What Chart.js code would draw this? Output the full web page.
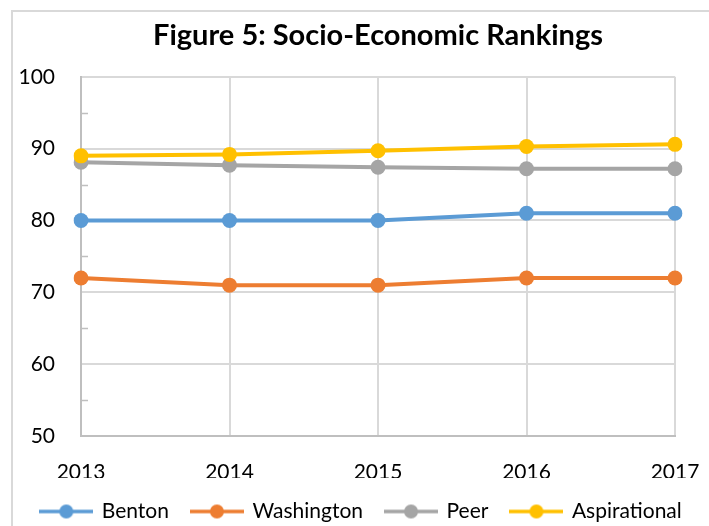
<!DOCTYPE html>
<html>
<head>
<meta charset="utf-8">
<script src="https://cdn.jsdelivr.net/npm/chart.js@4/dist/chart.umd.min.js"></script>
<style>
  html, body { margin: 0; padding: 0; background: #fff; }
  #wrap { width: 709px; height: 526px; position: relative; }
</style>
</head>
<body>
<div id="wrap"><canvas id="chart"></canvas></div>
<script>
var years = ['2013', '2014', '2015', '2016', '2017'];
var benton = [80, 80, 80, 81, 81];
var washington = [72, 71, 71, 72, 72];
var peer = [88.1, 87.7, 87.4, 87.2, 87.2];
var aspirational = [89.0, 89.2, 89.7, 90.3, 90.6];
var minorTicks = [55, 65, 75, 85, 95];

var FONT = 'Lato, "Open Sans", sans-serif';

function legendMark(color) {
  var c = document.createElement('canvas');
  c.width = 54; c.height = 16;
  var g = c.getContext('2d');
  g.strokeStyle = color; g.lineWidth = 3.5;
  g.beginPath(); g.moveTo(0, 8); g.lineTo(54, 8); g.stroke();
  g.fillStyle = color;
  g.beginPath(); g.arc(27, 8, 7, 0, Math.PI * 2); g.fill();
  return c;
}

function series(label, values, color, order) {
  return {
    label: label,
    data: values,
    borderColor: color,
    backgroundColor: color,
    borderWidth: 4,
    pointRadius: 7.5,
    pointHoverRadius: 7.5,
    pointBorderWidth: 0,
    pointStyle: 'circle',
    tension: 0,
    order: order,
    legendMark: legendMark(color)
  };
}

var frame = {
  id: 'frame',
  beforeDraw: function(chart) {
    var ctx = chart.ctx;
    ctx.save();
    ctx.strokeStyle = '#d9d9d9';
    ctx.lineWidth = 2;
    ctx.beginPath();
    ctx.moveTo(12, 530); ctx.lineTo(12, 11); ctx.lineTo(712, 11);
    ctx.stroke();
    ctx.restore();
  },
  beforeDatasetsDraw: function(chart) {
    var y = chart.scales.y, x = chart.scales.x;
    var ctx = chart.ctx;
    ctx.save();
    ctx.strokeStyle = '#bfbfbf';
    ctx.lineWidth = 1.5;
    minorTicks.forEach(function(v) {
      var py = Math.round(y.getPixelForValue(v)) + 0.5;
      ctx.beginPath();
      ctx.moveTo(x.left, py); ctx.lineTo(x.left + 7, py);
      ctx.stroke();
    });
    ctx.restore();
  }
};

new Chart(document.getElementById('chart'), {
  type: 'line',
  data: {
    labels: years,
    datasets: [
      series('Benton', benton, '#5B9BD5', 4),
      series('Washington', washington, '#ED7D31', 3),
      series('Peer', peer, '#A5A5A5', 2),
      series('Aspirational', aspirational, '#FFC000', 1)
    ]
  },
  options: {
    responsive: true,
    maintainAspectRatio: false,
    animation: false,
    layout: { padding: { left: 14, right: 0, top: 8, bottom: -6 } },
    plugins: {
      title: {
        display: true,
        fullSize: false,
        text: 'Figure 5: Socio-Economic Rankings',
        color: '#000',
        font: { family: FONT, size: 29, weight: 'bold' },
        padding: { top: 10, bottom: 24 }
      },
      legend: {
        position: 'bottom',
        labels: {
          color: '#000',
          font: { family: FONT, size: 21 },
          usePointStyle: true,
          pointStyleWidth: 50,
          padding: 23,
          sort: function(a, b) { return a.datasetIndex - b.datasetIndex; },
          generateLabels: function(chart) {
            return chart.data.datasets.map(function(ds, i) {
              return {
                text: ds.label,
                fillStyle: ds.borderColor,
                strokeStyle: ds.borderColor,
                lineWidth: 0,
                pointStyle: ds.legendMark,
                datasetIndex: i,
                hidden: false
              };
            });
          }
        }
      },
      tooltip: { enabled: false }
    },
    scales: {
      x: {
        offset: false,
        afterFit: function(scale) { scale.height = 42; scale.paddingRight = 34; },
        grid: { color: '#d9d9d9', lineWidth: 2, drawTicks: false },
        border: { color: '#bfbfbf', width: 2 },
        ticks: { color: '#000', font: { family: FONT, size: 21 }, padding: 24, maxRotation: 0 }
      },
      y: {
        min: 50,
        max: 100,
        afterFit: function(scale) { scale.width = 67; },
        grid: { color: '#d9d9d9', lineWidth: 2, drawTicks: false },
        border: { color: '#bfbfbf', width: 2 },
        ticks: { stepSize: 10, color: '#000', font: { family: FONT, size: 21 }, padding: 26 }
      }
    }
  },
  plugins: [frame]
});
</script>
</body>
</html>
